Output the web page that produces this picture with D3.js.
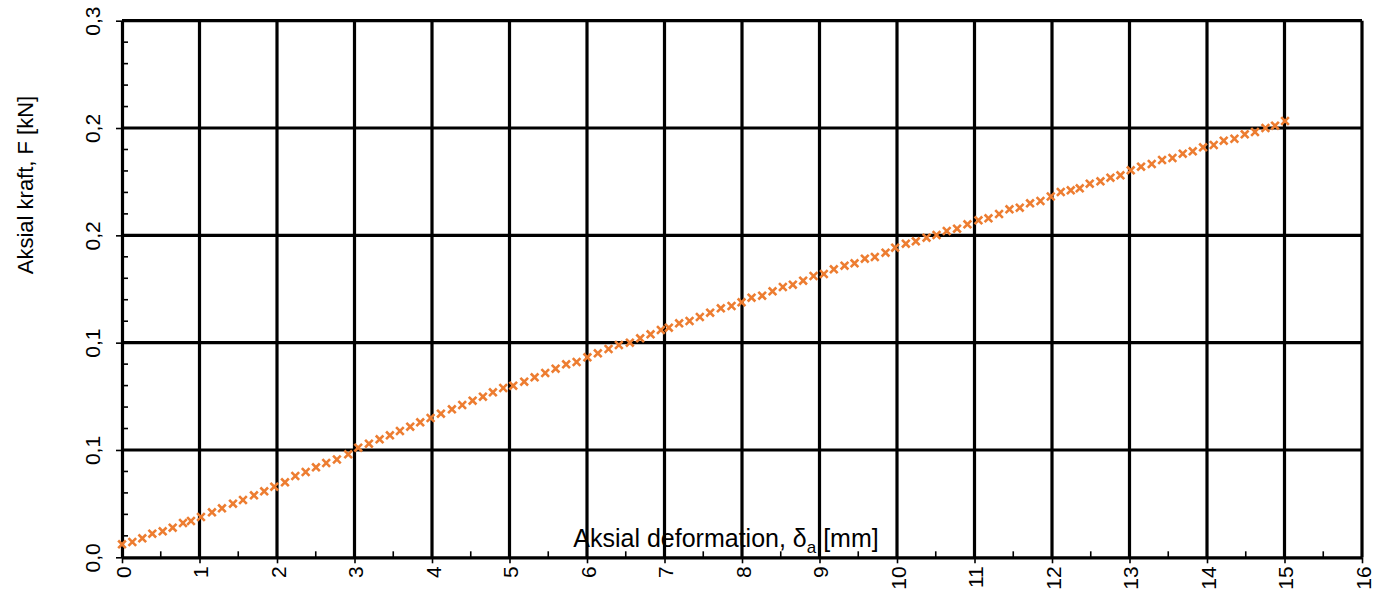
<!DOCTYPE html>
<html>
<head>
<meta charset="utf-8">
<script src="https://cdn.jsdelivr.net/npm/d3@7"></script>
<style>
  html, body { margin: 0; padding: 0; background: #fff; }
  svg { display: block; font-family: "Liberation Sans", Arial, sans-serif; }
</style>
</head>
<body>
<svg id="chart" width="1384" height="594"></svg>
<script>
// ---- data ----
const deformation = [0.000,0.133,0.262,0.391,0.525,0.654,0.787,0.890,1.019,1.161,1.290,1.432,1.561,1.703,1.835,1.965,2.103,2.236,2.370,2.503,2.635,2.773,2.919,3.048,3.186,3.324,3.457,3.586,3.719,3.848,3.982,4.115,4.257,4.390,4.524,4.657,4.786,4.919,5.048,5.190,5.324,5.461,5.595,5.731,5.866,6.005,6.140,6.278,6.411,6.553,6.686,6.820,6.953,7.056,7.189,7.323,7.456,7.589,7.727,7.865,7.994,8.123,8.260,8.394,8.527,8.656,8.789,8.923,9.056,9.185,9.323,9.452,9.585,9.714,9.852,9.976,10.114,10.243,10.381,10.510,10.642,10.775,10.909,11.051,11.180,11.317,11.451,11.584,11.717,11.851,11.984,12.113,12.242,12.358,12.487,12.625,12.754,12.883,13.016,13.149,13.287,13.420,13.554,13.687,13.816,13.949,14.087,14.216,14.354,14.487,14.619,14.754,14.878,15.007];
const force = [0.00727,0.00855,0.01062,0.01319,0.01454,0.01655,0.01918,0.02029,0.02253,0.02516,0.02739,0.02997,0.03203,0.03466,0.03690,0.03947,0.04193,0.04545,0.04769,0.05032,0.05272,0.05468,0.05758,0.06127,0.06351,0.06597,0.06821,0.07061,0.07301,0.07547,0.07788,0.08028,0.08274,0.08515,0.08755,0.08979,0.09225,0.09465,0.09594,0.09817,0.10063,0.10304,0.10544,0.10790,0.10919,0.11181,0.11405,0.11645,0.11869,0.11998,0.12243,0.12467,0.12707,0.12836,0.13082,0.13211,0.13434,0.13675,0.13921,0.14049,0.14256,0.14513,0.14625,0.14871,0.15111,0.15240,0.15464,0.15726,0.15838,0.16101,0.16302,0.16436,0.16694,0.16789,0.17029,0.17309,0.17532,0.17666,0.17868,0.18019,0.18242,0.18371,0.18617,0.18840,0.18952,0.19193,0.19455,0.19545,0.19791,0.19919,0.20171,0.20423,0.20518,0.20630,0.20887,0.21021,0.21222,0.21356,0.21636,0.21837,0.21988,0.22212,0.22323,0.22564,0.22698,0.22922,0.23050,0.23291,0.23402,0.23648,0.23777,0.24001,0.24129,0.24392];
const xTicks = [0,1,2,3,4,5,6,7,8,9,10,11,12,13,14,15,16];
const yTicks = [0, 0.06, 0.12, 0.18, 0.24, 0.30];
const yTickLabels = ["0,0","0,1","0,1","0,2","0,2","0,3"];
const xMinor = [0.5,1.5,2.5,3.5,4.5,5.5,6.5,7.5,8.5,9.5,10.5,11.5,12.5,13.5,14.5,15.5];
const yMinor = [0.012,0.024,0.036,0.048,0.072,0.084,0.096,0.108,0.132,0.144,0.156,0.168,0.192,0.204,0.216,0.228,0.252,0.264,0.276,0.288];
const xTitle = "Aksial deformation, ";
const yTitle = "Aksial kraft, F [kN]";

// ---- layout ----
const svg = d3.select("#chart");
svg.append("rect").attr("width", 1384).attr("height", 594).attr("fill", "#fff");
const x = d3.scaleLinear().domain([0, 16]).range([122, 1362]);
const y = d3.scaleLinear().domain([0, 0.3]).range([557.3, 20.7]);

// x title (behind grid)
const xt = svg.append("text")
  .attr("x", 726).attr("y", 547)
  .attr("text-anchor", "middle")
  .attr("font-size", 25).attr("fill", "#000");
xt.append("tspan").text(xTitle);
xt.append("tspan").text("δ");
xt.append("tspan").attr("font-size", 17).attr("dy", 6).text("a");
xt.append("tspan").attr("dy", -6).text(" [mm]");

// grid
const grid = svg.append("g").attr("stroke", "#000").attr("stroke-width", 3.2);
grid.selectAll("line.v").data(xTicks.slice(1)).join("line")
  .attr("x1", d => x(d)).attr("x2", d => x(d))
  .attr("y1", y(0)).attr("y2", y(0.3));
grid.selectAll("line.h").data(yTicks.slice(1)).join("line")
  .attr("x1", x(0)).attr("x2", x(16))
  .attr("y1", d => y(d)).attr("y2", d => y(d));

// minor ticks (inside)
const minor = svg.append("g").attr("stroke", "#000").attr("stroke-width", 1.6);
minor.selectAll("line.mx").data(xMinor).join("line")
  .attr("x1", d => x(d)).attr("x2", d => x(d))
  .attr("y1", y(0)).attr("y2", y(0) - 6);
minor.selectAll("line.my").data(yMinor).join("line")
  .attr("x1", x(0)).attr("x2", x(0) + 6)
  .attr("y1", d => y(d)).attr("y2", d => y(d));

// axes
const fmtY = d => yTickLabels[yTicks.indexOf(d)];
const gy = svg.append("g").attr("transform", `translate(${x(0)},0)`)
  .call(d3.axisLeft(y).tickValues(yTicks).tickFormat(fmtY).tickSize(6).tickSizeOuter(0));
const gx = svg.append("g").attr("transform", `translate(0,${y(0)})`)
  .call(d3.axisBottom(x).tickValues(xTicks).tickFormat(d => String(d)).tickSize(6).tickSizeOuter(0));

[gx, gy].forEach(g => {
  g.attr("font-size", 21).attr("font-family", "'Liberation Sans', Arial, sans-serif");
  g.select(".domain").attr("stroke", "#000").attr("stroke-width", 3.2);
  g.selectAll(".tick line").attr("stroke", "#000").attr("stroke-width", 1.6);
  g.selectAll(".tick text").attr("fill", "#000").style("font-size", "21px");
});
gy.selectAll(".tick text")
  .attr("x", null).attr("dy", null)
  .attr("text-anchor", "middle")
  .attr("transform", "translate(-22,0) rotate(-90)");
gx.selectAll(".tick text")
  .attr("y", null).attr("dy", null)
  .attr("text-anchor", "end")
  .attr("transform", "translate(8,9) rotate(-90)");

// y title
svg.append("text")
  .attr("transform", "translate(33,185) rotate(-90)")
  .attr("text-anchor", "middle")
  .attr("font-size", 22).attr("fill", "#000")
  .text(yTitle);

// markers
const sym = d3.symbol().type(d3.symbolTimes).size(40);
svg.append("g").selectAll("path").data(deformation).join("path")
  .attr("transform", (d, i) => `translate(${x(d)},${y(force[i])})`)
  .attr("d", sym)
  .attr("fill", "none")
  .attr("stroke", "#ED7D31")
  .attr("stroke-width", 2.6);
</script>
</body>
</html>
